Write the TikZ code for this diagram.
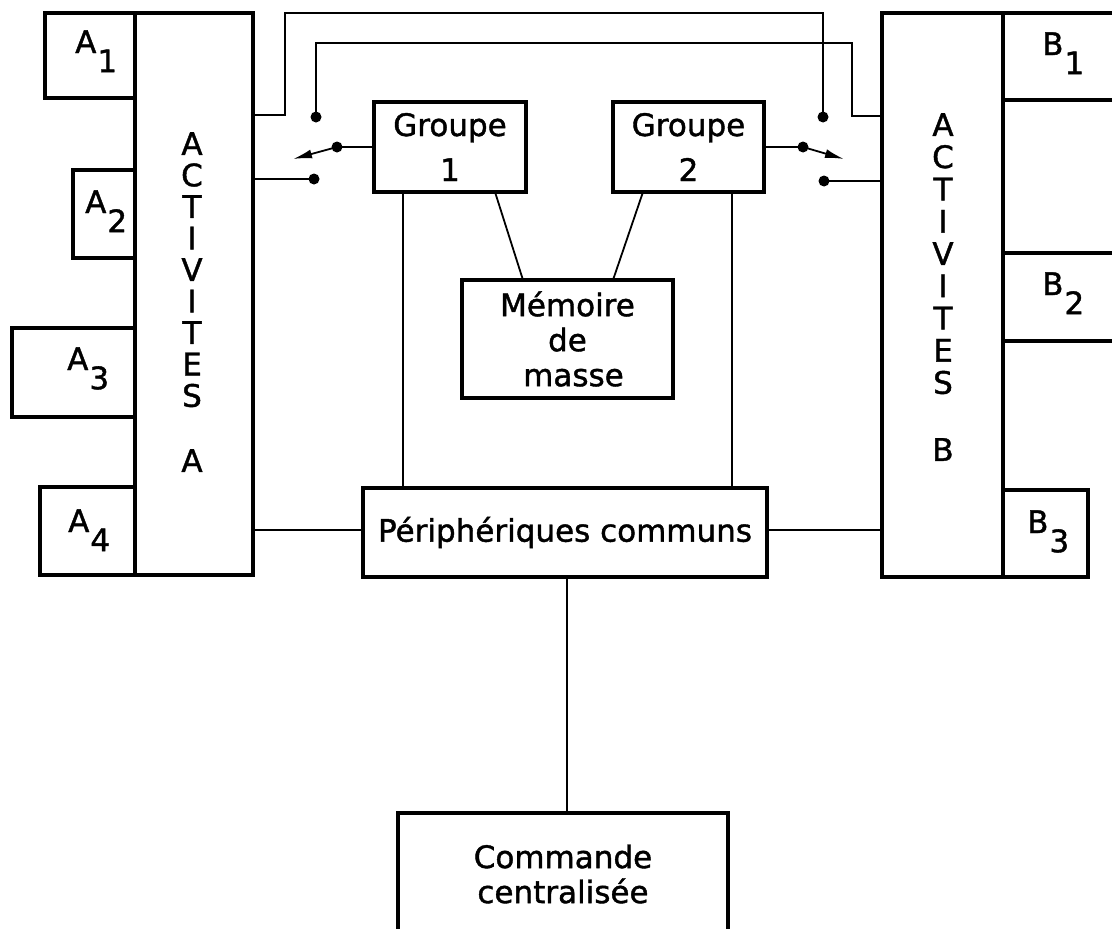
\documentclass[tikz,border=0pt]{standalone}
\usepackage{fontspec}
\setmainfont{DejaVu Sans}[FakeBold=1.3]
\usetikzlibrary{arrows.meta}
\newcommand\lowsub[1]{\kern1pt\raisebox{-0.62em}{#1}}
\begin{document}
\begin{tikzpicture}[x=1pt,y=-1pt,
  box/.style={draw,line width=3.4pt,inner sep=0pt,outer sep=0pt},
  conn/.style={line width=1.8pt},
  dot/.style={circle,fill,inner sep=0pt,minimum size=11pt},
  swarrow/.style={conn,-{Latex[length=19pt,width=9pt]}},
  txt/.style={font=\fontsize{31}{35}\selectfont,inner sep=0pt,align=center},
  lbl/.style={font=\fontsize{31}{35}\selectfont,inner sep=0pt,anchor=base west},
  col/.style={inner sep=0pt,align=center,anchor=north}]
\useasboundingbox (0,0) rectangle (1112,929);
\fill[white] (0,0) rectangle (1112,929);
\clip (0,0) rectangle (1112,929);

% activity A side
\node[box,minimum width=118pt,minimum height=562pt] (actA) at (194,294) {};
\node[box,minimum width=90pt,minimum height=85pt] (A1) at (90,55.5) {};
\node[box,minimum width=62pt,minimum height=88pt] (A2) at (104,214) {};
\node[box,minimum width=123pt,minimum height=89pt] (A3) at (73.5,372.5) {};
\node[box,minimum width=95pt,minimum height=88pt] (A4) at (87.5,531) {};
\node[lbl] (tA1) at (75,53) {A\lowsub{1}};
\node[lbl] (tA2) at (85,213) {A\lowsub{2}};
\node[lbl] (tA3) at (67,370) {A\lowsub{3}};
\node[lbl] (tA4) at (68,532) {A\lowsub{4}};
\node[col,font=\fontsize{31}{31.5}\selectfont] (colA) at (192,132)
  {A\\C\\T\\I\\V\\I\\T\\E\\S\\[33.5pt]A};

% activity B side
\node[box,minimum width=121pt,minimum height=564pt] (actB) at (942.5,295) {};
\node[box,minimum width=127pt,minimum height=87pt] (B1) at (1066.5,56.5) {};
\node[box,minimum width=127pt,minimum height=88pt] (B2) at (1066.5,297) {};
\node[box,minimum width=85pt,minimum height=87pt] (B3) at (1045.5,533.5) {};
\node[lbl] (tB1) at (1042,55) {B\lowsub{1}};
\node[lbl] (tB2) at (1042,295) {B\lowsub{2}};
\node[lbl] (tB3) at (1027,533) {B\lowsub{3}};
\node[col,font=\fontsize{31}{32.25}\selectfont] (colB) at (943,113)
  {A\\C\\T\\I\\V\\I\\T\\E\\S\\[34.75pt]B};

% central boxes
\node[box,txt,minimum width=152pt,minimum height=90pt] (g1) at (450,147) {Groupe\\[10pt]1};
\node[box,txt,minimum width=151pt,minimum height=90pt] (g2) at (688.5,147) {Groupe\\[10pt]2};
\node[box,txt,minimum width=211pt,minimum height=118pt] (mem) at (567.5,339) {Mémoire\\de\\\hspace*{12pt}masse};
\node[box,txt,minimum width=404pt,minimum height=89pt] (per) at (565,532.5) {Périphériques communs};
\node[box,txt,minimum width=330pt,minimum height=122pt] (cmd) at (563,874) {Commande\\centralisée};

% switch contacts
\node[dot] (s1top) at (316,117) {};
\node[dot] (s1mov) at (337,147) {};
\node[dot] (s1bot) at (314,179) {};
\node[dot] (s2top) at (823,117) {};
\node[dot] (s2mov) at (803,147) {};
\node[dot] (s2bot) at (824,181) {};
\coordinate (s1tip) at (293,159);
\coordinate (s2tip) at (844,159);

% connectors
\draw[conn] (actA.east |- 0,115) -| (285,13) -| (s2top.center);
\draw[conn] (s1top.center) |- (852,43) |- (actB.west |- 0,116);
\draw[conn] (actA.east |- s1bot) -- (s1bot.center);
\draw[conn] (s2bot.center) -- (actB.west |- s2bot);
\draw[conn] (g1.west |- s1mov) -- (s1mov.center);
\draw[swarrow] (s1mov.center) -- (s1tip);
\draw[conn] (g2.east |- s2mov) -- (s2mov.center);
\draw[swarrow] (s2mov.center) -- (s2tip);

\draw[conn] (g1.south -| 403,0) -- (per.north -| 403,0);
\draw[conn] (g2.south -| 732,0) -- (per.north -| 732,0);
\draw[conn] (g1.south -| 495,0) -- (mem.north -| 523,0);
\draw[conn] (g2.south -| 643,0) -- (mem.north -| 613,0);
\draw[conn] (actA.east |- 0,530) -- (per.west |- 0,530);
\draw[conn] (per.east |- 0,530) -- (actB.west |- 0,530);
\draw[conn] (per.south -| 567,0) -- (cmd.north -| 567,0);
\end{tikzpicture}
\end{document}
